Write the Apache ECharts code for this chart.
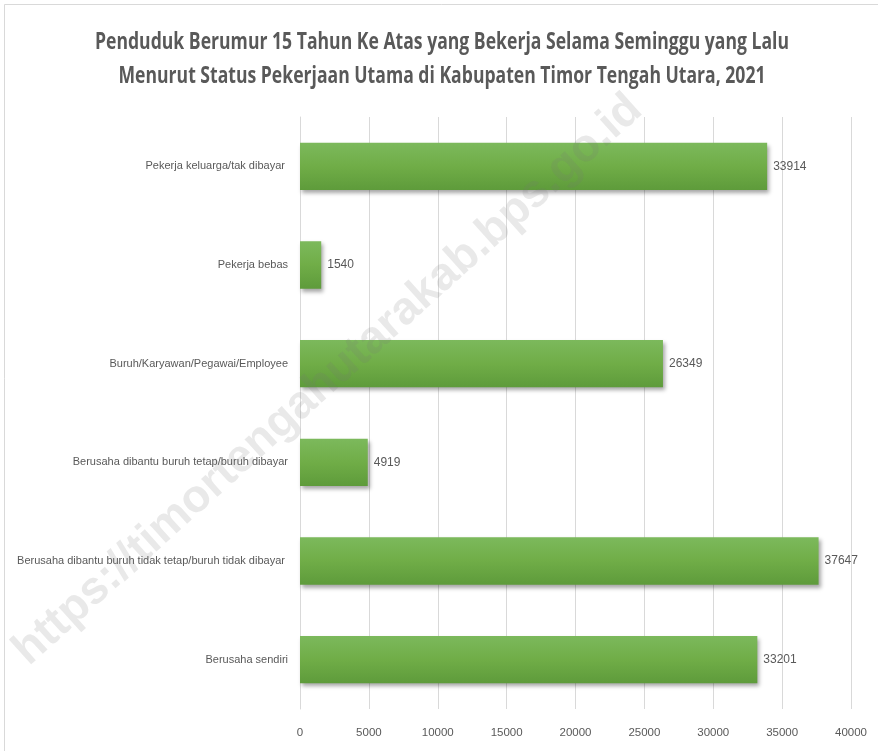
<!DOCTYPE html>
<html>
<head>
<meta charset="utf-8">
<script src="https://cdn.jsdelivr.net/npm/echarts@6/dist/echarts.min.js"></script>
<style>
  html, body { margin: 0; padding: 0; background: #fff; }
  #chart { width: 878px; height: 751px; }
</style>
</head>
<body>
<div id="chart"></div>
<script>
// data, bottom to top as echarts draws a category yAxis
let categories = [
  'Berusaha sendiri',
  'Berusaha dibantu buruh tidak tetap/buruh tidak dibayar ',
  'Berusaha dibantu buruh tetap/buruh dibayar',
  'Buruh/Karyawan/Pegawai/Employee',
  'Pekerja bebas',
  'Pekerja keluarga/tak dibayar '
]
let values = [33201, 37647, 4919, 26349, 1540, 33914]
let titleLines = [
  'Penduduk Berumur 15 Tahun Ke Atas yang Bekerja Selama Seminggu yang Lalu',
  'Menurut Status Pekerjaan Utama di Kabupaten Timor Tengah Utara, 2021'
]
let watermark = 'https://timortengahutarakab.bps.go.id'

let fontFam = '"Liberation Sans", Arial, sans-serif'
let textColor = '#595959'

let chart = echarts.init(document.getElementById('chart'))

// title drawn as text squeezed horizontally (the original uses a narrow font)
let titleGraphics = titleLines.map((line, i) => ({
  type: 'text',
  x: 442,
  y: 42 + i * 34,
  scaleX: 0.765,
  silent: true,
  style: {
    text: line,
    align: 'center',
    verticalAlign: 'middle',
    font: 'bold 23px "Open Sans", sans-serif',
    fill: textColor,
  },
}))

let option = {
  backgroundColor: '#fff',
  animation: false,
  grid: {
    left: 300,
    right: 27,
    top: 117,
    bottom: 42,
    outerBoundsMode: 'none',
    containLabel: false,
  },
  xAxis: {
    type: 'value',
    min: 0,
    max: 40000,
    interval: 5000,
    axisLine: { show: false },
    axisTick: { show: false },
    splitLine: { lineStyle: { color: '#d9d9d9', width: 1 } },
    axisLabel: {
      color: textColor,
      fontFamily: fontFam,
      fontSize: 11.5,
      margin: 18,
      formatter: (v) => String(v),
    },
  },
  yAxis: {
    type: 'category',
    data: categories,
    axisLine: { show: true, lineStyle: { color: '#d9d9d9' } },
    axisTick: { show: false },
    axisLabel: {
      color: textColor,
      fontFamily: fontFam,
      fontSize: 11,
      margin: 12,
    },
  },
  series: [
    {
      type: 'bar',
      data: values,
      barWidth: '48%',
      itemStyle: {
        color: new echarts.graphic.LinearGradient(0, 0, 0, 1, [
          { offset: 0, color: '#7cb95c' },
          { offset: 0.5, color: '#70ad47' },
          { offset: 1, color: '#5e9b3b' },
        ]),
        shadowColor: 'rgba(0,0,0,0.35)',
        shadowBlur: 4,
        shadowOffsetX: 2,
        shadowOffsetY: 3,
      },
      label: {
        show: true,
        position: 'right',
        distance: 6,
        color: textColor,
        fontFamily: fontFam,
        fontSize: 12,
      },
    },
  ],
  graphic: [
    {
      type: 'rect',
      silent: true,
      shape: { x: 4.5, y: 4.5, width: 900, height: 800 },
      style: { fill: 'none', stroke: '#d9d9d9', lineWidth: 1 },
    },
    ...titleGraphics,
    {
      type: 'text',
      x: 328,
      y: 380,
      rotation: (42 * Math.PI) / 180,
      z: 100,
      silent: true,
      style: {
        text: watermark,
        align: 'center',
        verticalAlign: 'middle',
        font: 'bold 46px "Liberation Sans", Arial, sans-serif',
        fill: 'rgba(120,120,120,0.16)',
      },
    },
  ],
}
chart.setOption(option)
</script>
</body>
</html>
